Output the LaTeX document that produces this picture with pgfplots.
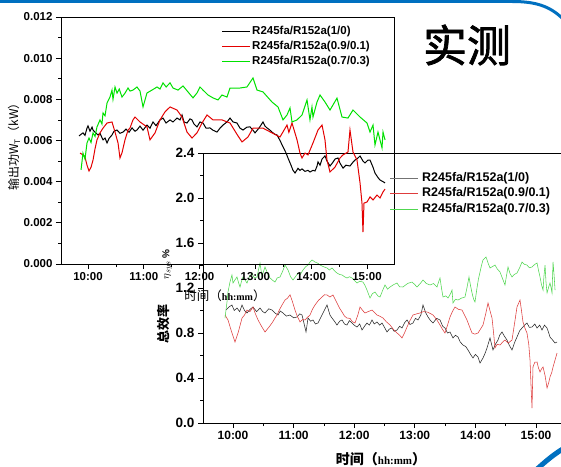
\documentclass[border=0pt]{standalone}
\usepackage{pgfplots}
\pgfplotsset{compat=1.18}
\usepackage{fontspec}
\setmainfont{Liberation Sans}
\newfontfamily\cjk{Noto Sans CJK SC}
\newfontfamily\cjkb{Noto Sans CJK SC}[FakeBold=1.6]
\newfontfamily\tnr{Liberation Serif}
\definecolor{pblue}{RGB}{0,112,192}
\definecolor{gA}{RGB}{0,225,0}
\definecolor{rA}{RGB}{228,0,0}
\definecolor{gB}{RGB}{80,215,80}
\definecolor{rB}{RGB}{222,60,60}
\definecolor{kB}{RGB}{40,40,40}

\pgfplotstableread{
h v
9.839 0.00622
9.875 0.00630
9.910 0.00637
9.946 0.00625
9.982 0.00660
10.000 0.00671
10.036 0.00645
10.072 0.00665
10.090 0.00651
10.126 0.00640
10.179 0.00627
10.215 0.00635
10.269 0.00603
10.305 0.00612
10.341 0.00588
10.377 0.00610
10.430 0.00627
10.466 0.00645
10.520 0.00651
10.573 0.00635
10.627 0.00641
10.681 0.00655
10.735 0.00640
10.789 0.00661
10.842 0.00645
10.878 0.00651
10.932 0.00670
10.986 0.00650
11.057 0.00675
11.111 0.00660
11.165 0.00690
11.219 0.00672
11.290 0.00700
11.344 0.00709
11.398 0.00685
11.470 0.00700
11.523 0.00690
11.595 0.00709
11.649 0.00700
11.685 0.00724
11.721 0.00690
11.774 0.00685
11.828 0.00705
11.864 0.00700
11.900 0.00680
11.953 0.00666
12.007 0.00690
12.061 0.00685
12.115 0.00660
12.186 0.00661
12.240 0.00650
12.312 0.00641
12.365 0.00660
12.419 0.00675
12.491 0.00690
12.545 0.00709
12.599 0.00690
12.670 0.00685
12.724 0.00660
12.778 0.00651
12.849 0.00665
12.903 0.00666
12.957 0.00650
12.993 0.00637
13.064 0.00660
13.136 0.00690
13.172 0.00670
13.208 0.00661
13.262 0.00650
13.297 0.00641
13.351 0.00630
13.387 0.00627
13.441 0.00600
13.495 0.00569
13.548 0.00540
13.584 0.00515
13.638 0.00480
13.674 0.00455
13.710 0.00442
13.764 0.00465
13.799 0.00455
13.835 0.00462
13.889 0.00450
13.943 0.00455
13.978 0.00447
14.032 0.00455
14.068 0.00452
14.104 0.00475
14.122 0.00496
14.158 0.00480
14.194 0.00510
14.247 0.00525
14.283 0.00500
14.337 0.00476
14.391 0.00495
14.427 0.00510
14.480 0.00515
14.516 0.00490
14.570 0.00466
14.623 0.00480
14.695 0.00476
14.749 0.00495
14.785 0.00505
14.839 0.00515
14.875 0.00525
14.928 0.00500
14.964 0.00491
15.018 0.00505
15.054 0.00505
15.108 0.00470
15.143 0.00442
15.197 0.00420
15.233 0.00408
15.287 0.00400
15.323 0.00394
}\blackA

\pgfplotstableread{
h v
9.857 0.00539
9.910 0.00530
9.946 0.00520
9.982 0.00480
10.018 0.00452
10.054 0.00470
10.090 0.00505
10.126 0.00560
10.161 0.00603
10.215 0.00637
10.269 0.00660
10.341 0.00685
10.430 0.00690
10.484 0.00641
10.538 0.00588
10.573 0.00515
10.609 0.00540
10.663 0.00603
10.717 0.00650
10.753 0.00661
10.806 0.00700
10.842 0.00714
10.932 0.00690
11.057 0.00666
11.111 0.00603
11.201 0.00637
11.290 0.00700
11.380 0.00739
11.470 0.00763
11.595 0.00748
11.685 0.00714
11.774 0.00641
11.864 0.00612
11.953 0.00637
12.043 0.00685
12.133 0.00724
12.240 0.00700
12.401 0.00700
12.545 0.00685
12.670 0.00630
12.760 0.00593
12.867 0.00617
12.957 0.00660
13.136 0.00660
13.297 0.00637
13.441 0.00617
13.566 0.00675
13.600 0.00640
13.656 0.00685
13.746 0.00603
13.799 0.00539
13.835 0.00515
13.889 0.00539
13.943 0.00530
14.032 0.00588
14.122 0.00651
14.194 0.00675
14.247 0.00603
14.283 0.00505
14.337 0.00447
14.427 0.00471
14.516 0.00515
14.570 0.00530
14.659 0.00544
14.695 0.00651
14.749 0.00544
14.821 0.00505
14.875 0.00394
14.910 0.00296
14.928 0.00155
14.946 0.00296
15.000 0.00301
15.054 0.00326
15.108 0.00311
15.179 0.00335
15.233 0.00321
15.287 0.00350
15.323 0.00364
}\redA

\pgfplotstableread{
h v
9.875 0.00457
9.910 0.00539
9.946 0.00510
9.982 0.00588
10.018 0.00612
10.054 0.00590
10.090 0.00637
10.126 0.00620
10.161 0.00666
10.215 0.00700
10.250 0.00680
10.269 0.00734
10.305 0.00720
10.341 0.00782
10.394 0.00811
10.430 0.00845
10.448 0.00800
10.484 0.00860
10.520 0.00830
10.560 0.00850
10.609 0.00811
10.663 0.00830
10.717 0.00855
10.753 0.00840
10.806 0.00845
10.878 0.00860
10.932 0.00840
10.986 0.00763
11.057 0.00831
11.147 0.00845
11.237 0.00860
11.290 0.00850
11.344 0.00880
11.400 0.00860
11.470 0.00880
11.523 0.00855
11.613 0.00845
11.703 0.00865
11.792 0.00836
11.882 0.00807
11.953 0.00831
12.007 0.00860
12.061 0.00845
12.151 0.00821
12.240 0.00807
12.330 0.00797
12.401 0.00821
12.491 0.00811
12.545 0.00855
12.634 0.00855
12.724 0.00855
12.849 0.00860
12.957 0.00904
13.029 0.00845
13.136 0.00836
13.297 0.00787
13.405 0.00763
13.495 0.00700
13.566 0.00724
13.620 0.00758
13.656 0.00690
13.746 0.00700
13.835 0.00724
13.925 0.00797
13.978 0.00700
14.014 0.00763
14.032 0.00714
14.104 0.00787
14.158 0.00821
14.247 0.00787
14.337 0.00748
14.462 0.00806
14.552 0.00714
14.659 0.00709
14.749 0.00748
14.875 0.00714
15.000 0.00685
15.054 0.00641
15.108 0.00675
15.143 0.00578
15.197 0.00641
15.269 0.00564
15.287 0.00641
15.323 0.00603
}\greenA

\pgfplotstableread{
h v
9.884 1.004
9.930 1.030
9.983 1.049
10.020 1.000
10.066 1.022
10.110 0.990
10.149 1.049
10.190 1.000
10.231 0.978
10.280 1.010
10.330 1.031
10.390 0.990
10.446 1.022
10.490 0.990
10.528 0.978
10.590 1.015
10.644 1.004
10.700 0.975
10.743 0.960
10.780 0.995
10.825 0.978
10.880 0.950
10.941 0.960
11.000 0.935
11.056 0.942
11.100 0.970
11.139 0.960
11.205 0.809
11.238 0.933
11.280 0.905
11.320 0.916
11.360 0.880
11.403 0.889
11.440 0.930
11.485 0.978
11.551 1.049
11.600 0.960
11.634 0.933
11.680 0.900
11.716 0.871
11.760 0.905
11.799 0.916
11.840 0.880
11.881 0.871
11.920 0.910
11.964 0.889
12.000 0.870
12.046 0.853
12.090 0.880
12.129 0.827
12.170 0.860
12.211 0.889
12.250 0.870
12.294 0.916
12.330 0.880
12.376 0.898
12.420 0.870
12.459 0.889
12.500 0.850
12.541 0.809
12.580 0.835
12.624 0.844
12.660 0.815
12.706 0.827
12.750 0.860
12.789 0.844
12.830 0.890
12.871 0.916
12.920 0.875
12.970 0.889
13.010 0.930
13.053 0.916
13.100 0.960
13.135 1.049
13.180 0.980
13.218 0.942
13.260 0.910
13.300 0.889
13.360 0.930
13.416 0.916
13.460 0.860
13.498 0.844
13.540 0.800
13.581 0.809
13.630 0.756
13.670 0.780
13.713 0.764
13.750 0.720
13.795 0.693
13.840 0.680
13.878 0.649
13.920 0.610
13.960 0.578
14.000 0.610
14.043 0.587
14.076 0.533
14.125 0.578
14.160 0.620
14.191 0.667
14.241 0.756
14.290 0.649
14.330 0.700
14.373 0.738
14.400 0.780
14.439 0.809
14.480 0.770
14.521 0.738
14.560 0.690
14.604 0.649
14.650 0.720
14.686 0.764
14.730 0.820
14.769 0.844
14.810 0.870
14.851 0.889
14.890 0.850
14.934 0.853
14.980 0.880
15.017 0.844
15.060 0.870
15.099 0.827
15.140 0.870
15.182 0.844
15.210 0.800
15.231 0.764
15.270 0.740
15.314 0.711
15.347 0.720
}\blackB

\pgfplotstableread{
h v
9.868 0.960
9.917 0.916
9.983 0.800
10.033 0.720
10.083 0.800
10.149 0.933
10.190 0.960
10.231 1.004
10.280 0.990
10.330 1.031
10.370 0.970
10.413 0.916
10.470 0.860
10.528 0.809
10.590 0.850
10.644 0.889
10.690 0.930
10.726 0.960
10.770 1.010
10.809 1.049
10.858 1.093
10.900 1.110
10.941 1.140
10.980 1.080
11.023 1.004
11.060 0.950
11.106 0.898
11.150 0.920
11.188 0.916
11.230 0.940
11.271 0.960
11.310 1.010
11.353 1.049
11.410 1.090
11.469 1.120
11.510 1.140
11.551 1.138
11.600 1.120
11.650 1.138
11.716 1.067
11.760 1.020
11.799 0.987
11.840 0.950
11.881 0.933
11.931 0.930
11.970 0.900
12.013 0.889
12.060 0.960
12.096 1.031
12.140 1.000
12.178 0.978
12.230 0.990
12.294 1.004
12.340 0.980
12.376 0.960
12.420 0.950
12.475 0.933
12.530 0.900
12.591 0.871
12.650 0.830
12.706 0.800
12.750 0.780
12.789 0.756
12.830 0.800
12.871 0.853
12.920 0.910
12.970 0.960
13.030 0.970
13.086 0.978
13.140 0.990
13.201 0.987
13.250 0.975
13.300 0.960
13.360 0.920
13.416 0.871
13.460 0.830
13.498 0.800
13.540 0.870
13.581 0.942
13.620 0.990
13.663 1.031
13.720 1.010
13.779 1.004
13.820 0.960
13.861 0.916
13.900 0.860
13.944 0.800
13.990 0.790
14.043 0.800
14.090 0.840
14.125 0.871
14.170 0.970
14.208 1.067
14.240 1.000
14.274 0.933
14.300 0.800
14.323 0.667
14.360 0.700
14.406 0.693
14.450 0.720
14.488 0.738
14.540 0.710
14.604 0.738
14.650 0.900
14.686 1.031
14.736 1.093
14.760 1.000
14.785 0.898
14.820 0.840
14.851 0.800
14.880 0.700
14.901 0.560
14.920 0.300
14.934 0.133
14.950 0.498
14.980 0.540
15.017 0.542
15.040 0.490
15.066 0.453
15.090 0.480
15.116 0.498
15.150 0.420
15.182 0.311
15.210 0.360
15.231 0.409
15.260 0.450
15.281 0.498
15.314 0.560
15.347 0.622
}\redB

\pgfplotstableread{
h v
9.868 0.933
9.901 1.076
9.917 1.164
9.950 1.253
9.983 1.316
10.000 1.244
10.030 1.270
10.066 1.298
10.090 1.250
10.116 1.209
10.140 1.260
10.165 1.298
10.200 1.270
10.231 1.244
10.270 1.300
10.314 1.333
10.350 1.290
10.396 1.298
10.420 1.360
10.446 1.422
10.479 1.298
10.500 1.340
10.528 1.387
10.570 1.330
10.611 1.289
10.650 1.270
10.693 1.253
10.730 1.290
10.776 1.298
10.820 1.350
10.858 1.404
10.908 1.360
10.950 1.300
10.990 1.271
11.030 1.300
11.073 1.333
11.110 1.320
11.155 1.360
11.200 1.390
11.238 1.404
11.270 1.430
11.304 1.449
11.353 1.431
11.400 1.420
11.436 1.404
11.490 1.390
11.551 1.378
11.590 1.360
11.634 1.378
11.680 1.350
11.716 1.333
11.760 1.320
11.799 1.316
11.840 1.300
11.881 1.289
11.920 1.300
11.964 1.289
12.000 1.270
12.046 1.244
12.090 1.260
12.145 1.253
12.180 1.220
12.211 1.182
12.240 1.140
12.261 1.111
12.300 1.150
12.343 1.164
12.390 1.130
12.426 1.120
12.470 1.180
12.508 1.227
12.550 1.190
12.591 1.209
12.650 1.230
12.706 1.244
12.750 1.210
12.805 1.209
12.880 1.240
12.954 1.253
13.000 1.230
13.036 1.209
13.090 1.240
13.135 1.271
13.190 1.240
13.251 1.227
13.310 1.240
13.366 1.209
13.390 1.250
13.416 1.289
13.440 1.200
13.465 1.120
13.510 1.130
13.548 1.111
13.590 1.150
13.614 1.182
13.630 1.067
13.670 1.100
13.713 1.093
13.770 1.110
13.828 1.120
13.860 1.200
13.894 1.298
13.920 1.220
13.944 1.156
13.970 1.100
13.993 1.076
14.026 1.200
14.050 1.280
14.076 1.342
14.100 1.400
14.125 1.449
14.175 1.476
14.210 1.420
14.241 1.378
14.280 1.390
14.323 1.404
14.360 1.370
14.406 1.342
14.450 1.280
14.488 1.227
14.510 1.300
14.538 1.387
14.570 1.330
14.604 1.298
14.640 1.320
14.686 1.333
14.730 1.380
14.769 1.431
14.810 1.410
14.851 1.404
14.890 1.380
14.934 1.387
14.980 1.410
15.017 1.422
15.040 1.360
15.066 1.298
15.090 1.230
15.116 1.182
15.130 1.300
15.149 1.404
15.165 1.250
15.182 1.156
15.210 1.210
15.231 1.244
15.250 1.200
15.264 1.156
15.281 1.431
15.300 1.300
15.314 1.182
}\greenB

\begin{document}
\begin{tikzpicture}
\useasboundingbox (0pt,0pt) rectangle (561pt,466pt);
\clip (0pt,0pt) rectangle (561pt,466pt);
\fill[white] (0pt,0pt) rectangle (561pt,466pt);

% lower chart: total efficiency
\begin{axis}[
  at={(203pt,43pt)}, anchor=south west, scale only axis,
  width=397pt, height=270pt,
  xmin=9.505, xmax=16.056, ymin=0, ymax=2.4,
  axis line style={line width=0.9pt},
  xtick={10,11,12,13,14,15},
  xticklabels={10:00,11:00,12:00,13:00,14:00,15:00},
  ytick={0,0.4,0.8,1.2,1.6,2.0,2.4},
  yticklabels={0.0,0.4,0.8,1.2,1.6,2.0,2.4},
  minor x tick num=1, minor y tick num=1,
  tick align=outside, xtick pos=left, ytick pos=left,
  major tick length=5pt, minor tick length=3pt,
  every tick/.style={black, line width=0.8pt},
  x tick label style={font=\bfseries\fontsize{12}{13}\selectfont},
  y tick label style={font=\bfseries\fontsize{13.5}{14}\selectfont},
]
\addplot[kB, line width=0.55pt] table[x=h,y=v] {\blackB};
\addplot[rB, line width=0.55pt] table[x=h,y=v] {\redB};
\addplot[gB, line width=0.55pt] table[x=h,y=v] {\greenB};
\end{axis}

% upper chart: output power
\begin{axis}[
  at={(61pt,202pt)}, anchor=south west, scale only axis,
  width=333pt, height=247pt,
  xmin=9.516, xmax=15.484, ymin=0, ymax=0.012,
  axis line style={line width=0.9pt},
  xtick={10,11,12,13,14,15},
  xticklabels={10:00,11:00,12:00,13:00,14:00,15:00},
  ytick={0,0.002,0.004,0.006,0.008,0.010,0.012},
  yticklabels={0.000,0.002,0.004,0.006,0.008,0.010,0.012},
  scaled y ticks=false,
  minor x tick num=1, minor y tick num=1,
  tick align=outside, xtick pos=left, ytick pos=left,
  major tick length=5pt, minor tick length=3pt,
  every tick/.style={black, line width=0.8pt},
  tick label style={font=\bfseries\fontsize{11.5}{12}\selectfont},
]
\addplot[black, line width=1pt] table[x=h,y=v] {\blackA};
\addplot[rA, line width=1pt] table[x=h,y=v] {\redA};
\addplot[gA, line width=1pt] table[x=h,y=v] {\greenA};
\end{axis}

% legend of upper chart
\begin{scope}[font=\bfseries\fontsize{11.5}{13}\selectfont]
\draw[black, line width=1pt] (222pt,434pt) -- (250pt,434pt);
\node[anchor=west, inner sep=0pt] at (252pt,434pt) {R245fa/R152a(1/0)};
\draw[rA, line width=1pt] (222pt,419pt) -- (250pt,419pt);
\node[anchor=west, inner sep=0pt] at (252pt,419pt) {R245fa/R152a(0.9/0.1)};
\draw[gA, line width=1pt] (222pt,404pt) -- (250pt,404pt);
\node[anchor=west, inner sep=0pt] at (252pt,404pt) {R245fa/R152a(0.7/0.3)};
\end{scope}

% legend of lower chart
\begin{scope}[font=\bfseries\fontsize{12.5}{14}\selectfont]
\draw[black!55, line width=0.6pt] (390pt,288pt) -- (418pt,288pt);
\node[anchor=west, inner sep=0pt] at (422pt,288pt) {R245fa/R152a(1/0)};
\draw[rB, line width=0.6pt] (390pt,273pt) -- (418pt,273pt);
\node[anchor=west, inner sep=0pt] at (422pt,273pt) {R245fa/R152a(0.9/0.1)};
\draw[gB, line width=0.6pt] (390pt,257pt) -- (418pt,257pt);
\node[anchor=west, inner sep=0pt] at (422pt,257pt) {R245fa/R152a(0.7/0.3)};
\end{scope}

% labels
\node[rotate=90] at (14pt,322pt) {\fontsize{12}{12}\selectfont\cjk 输出功W$_{\mathrm{T}}$（kW）};
\node at (225pt,170pt) {\fontsize{12.5}{13}\selectfont\cjk 时间（{\tnr\bfseries\fontsize{10}{10}\selectfont hh:mm}）};
\node at (381pt,7pt) {\fontsize{14}{14}\selectfont\cjk\bfseries 时间（{\tnr\bfseries\fontsize{11}{11}\selectfont hh:mm}）};
\node[rotate=90] at (164pt,142pt) {\fontsize{13}{13}\selectfont\cjk\bfseries 总效率};
\node[rotate=90] at (168pt,196pt) {\fontsize{11}{11}\selectfont $\eta_{sys}$};
\node[rotate=90] at (166pt,212pt) {\bfseries\fontsize{10}{10}\selectfont \%};
\node at (467pt,421pt) {\fontsize{44}{44}\selectfont\cjkb 实测};

% slide decorations
\draw[pblue, line width=3pt] (-5pt,464.5pt) -- (512pt,464.5pt) .. controls (538pt,464.5pt) and (552pt,459pt) .. (566pt,444pt);
\draw[pblue, line width=5pt] (536pt,-4pt) .. controls (546pt,5pt) and (554pt,12pt) .. (566pt,19pt);
\end{tikzpicture}
\end{document}
